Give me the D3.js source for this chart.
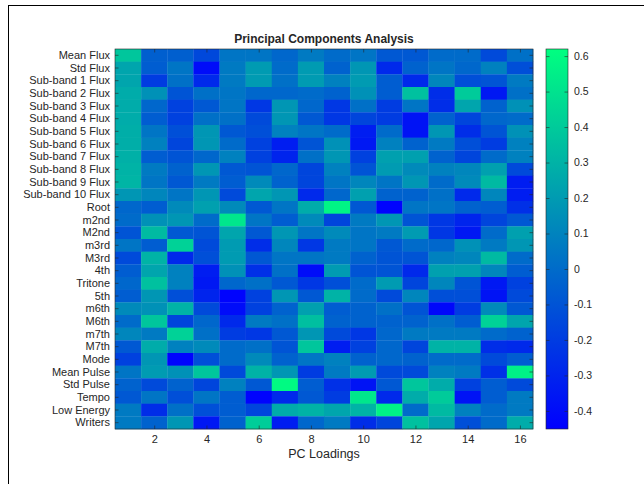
<!DOCTYPE html>
<html>
<head>
<meta charset="utf-8">
<script src="https://cdn.jsdelivr.net/npm/d3@7"></script>
<style>
  body { margin: 0; background: #fff; }
  text { font-family: "Liberation Sans", Arial, sans-serif; fill: #262626; }
</style>
</head>
<body>
<svg id="chart"></svg>
<script>
const width = 644, height = 484;

// row labels (features), top to bottom
const features = ["Mean Flux", "Std Flux", "Sub-band 1 Flux", "Sub-band 2 Flux", "Sub-band 3 Flux",
  "Sub-band 4 Flux", "Sub-band 5 Flux", "Sub-band 6 Flux", "Sub-band 7 Flux", "Sub-band 8 Flux",
  "Sub-band 9 Flux", "Sub-band 10 Flux", "Root", "m2nd", "M2nd", "m3rd", "M3rd", "4th", "Tritone",
  "5th", "m6th", "M6th", "m7th", "M7th", "Mode", "Mean Pulse", "Std Pulse", "Tempo", "Low Energy", "Writers"];

const pcs = d3.range(1, 17);          // PC 1..16
const xTicks = [2, 4, 6, 8, 10, 12, 14, 16];
const cbarTicks = [-0.4, -0.3, -0.2, -0.1, 0, 0.1, 0.2, 0.3, 0.4, 0.5, 0.6];
const colorLimits = [-0.451, 0.62];

// loadings[row][pc]
const loadings = [
  [0.38, -0.05, -0.05, -0.15, 0.04, 0.04, -0.02, 0.06, 0, 0.04, -0.08, -0.08, 0, 0, -0.14, 0.02],
  [0.24, -0.06, 0.04, -0.40, 0.06, 0.20, 0, 0.20, -0.04, 0.18, -0.28, -0.04, 0.04, -0.02, 0.09, -0.12],
  [0.24, -0.20, 0.02, -0.28, 0.06, 0.20, 0.02, 0.20, 0.09, 0.20, -0.06, -0.28, 0.11, -0.12, -0.10, 0.06],
  [0.27, 0.16, -0.10, 0.02, 0.04, -0.02, -0.02, 0, -0.04, 0.16, -0.06, 0.36, -0.26, 0.40, -0.35, 0.02],
  [0.27, -0.02, -0.18, -0.08, 0.04, -0.22, 0.18, -0.02, -0.22, 0.02, -0.20, 0.04, -0.26, 0.24, -0.04, 0.16],
  [0.27, -0.06, -0.18, 0.02, 0.02, -0.14, 0.18, -0.08, -0.22, -0.16, -0.20, -0.37, -0.04, -0.16, -0.02, 0],
  [0.28, 0.04, -0.12, 0.18, -0.08, -0.12, 0.09, 0.04, 0, -0.33, 0, -0.37, 0.18, -0.26, -0.10, 0.16],
  [0.28, 0.09, -0.16, 0.18, 0, -0.18, -0.33, -0.10, 0.16, -0.35, 0.09, -0.04, 0.06, -0.12, -0.20, 0.09],
  [0.29, -0.06, -0.10, -0.02, 0.09, -0.18, -0.30, 0.02, 0.18, -0.18, 0.22, 0.22, -0.04, -0.16, 0, 0.09],
  [0.30, 0.06, -0.04, 0.18, -0.08, -0.10, -0.02, -0.16, 0.09, -0.10, 0.20, 0.13, 0.09, 0.11, 0.22, -0.14],
  [0.31, 0.04, -0.08, 0.06, -0.06, 0.13, -0.04, -0.16, 0.04, 0.11, 0.04, 0.18, 0, 0.13, 0.33, -0.33],
  [0.18, 0.11, 0.04, 0.18, -0.14, 0.24, 0.18, -0.28, -0.02, 0.22, -0.04, -0.04, 0.02, -0.28, 0.11, -0.33],
  [-0.02, -0.06, 0.13, 0.22, 0.13, -0.08, 0.04, 0.27, 0.58, -0.08, -0.44, 0.04, 0.04, -0.04, -0.06, -0.25],
  [0, 0.16, 0.18, 0, 0.52, 0.04, -0.06, 0.13, -0.16, 0.06, 0.18, -0.10, -0.22, -0.30, -0.16, -0.08],
  [-0.10, 0.33, -0.08, -0.10, 0.24, -0.08, 0.18, 0.04, 0.13, 0.04, 0.06, 0.20, -0.22, -0.35, 0, 0.22],
  [0.04, -0.06, 0.43, -0.14, 0.20, -0.26, 0.11, -0.22, 0.06, 0.04, -0.08, 0, -0.02, 0.16, 0.06, 0.18],
  [-0.14, 0.30, -0.28, -0.12, 0.20, -0.08, 0.04, 0.04, 0.06, -0.04, -0.10, -0.10, 0.09, 0.11, 0.33, 0],
  [-0.06, 0.24, 0.09, -0.33, 0.16, -0.25, 0.02, -0.40, 0.20, -0.10, -0.10, -0.28, 0.22, 0.22, 0.11, -0.06],
  [-0.02, 0.36, 0.09, -0.35, -0.02, 0.02, -0.08, -0.22, -0.12, 0, 0.20, -0.16, 0.11, -0.10, -0.35, -0.18],
  [-0.06, 0.18, -0.12, -0.30, -0.44, -0.18, 0.18, -0.08, 0.30, 0, -0.14, 0.11, -0.12, -0.12, -0.37, -0.14],
  [0.13, 0.16, 0.30, -0.14, -0.40, -0.18, -0.04, 0.22, -0.06, -0.04, 0.02, -0.10, -0.42, -0.20, 0.13, -0.08],
  [0, 0.38, -0.16, -0.02, -0.28, 0.06, 0.02, 0.35, -0.04, -0.04, -0.04, -0.04, 0.02, -0.06, 0.43, 0.24],
  [0.11, 0.06, 0.43, 0.02, -0.20, -0.22, -0.08, 0.18, -0.14, -0.22, -0.02, 0.06, 0.06, 0.06, 0, -0.04],
  [-0.08, 0.27, 0.09, 0.13, 0, 0.02, -0.10, 0.38, -0.33, -0.18, -0.02, -0.16, 0.30, 0.30, -0.26, -0.28],
  [-0.18, 0.18, -0.44, -0.12, 0, 0.13, -0.04, 0.04, 0.09, -0.04, -0.02, -0.04, 0, 0, -0.14, -0.06],
  [0.04, 0.20, 0.16, 0.38, -0.14, 0.30, 0.18, -0.20, 0.06, 0.20, -0.14, -0.14, 0.09, 0.06, -0.25, 0.56],
  [-0.04, -0.14, -0.04, -0.16, 0.09, -0.08, 0.60, -0.06, -0.25, -0.37, -0.08, 0.38, 0.27, -0.18, -0.06, -0.14],
  [-0.08, 0.04, -0.12, 0.04, -0.06, -0.44, -0.28, -0.08, -0.20, 0.52, -0.28, 0.27, 0.40, -0.37, -0.06, 0.06],
  [0.06, -0.26, 0.02, -0.12, -0.06, -0.16, 0.27, 0.30, 0.24, 0.30, 0.57, 0, 0.33, 0.09, 0, 0.06],
  [0.06, -0.04, 0.18, -0.35, -0.04, 0.41, -0.33, -0.02, 0.06, -0.26, -0.16, 0.36, 0.24, -0.12, 0, 0.27]
];

const plot = { left: 115, right: 533, top: 49, bottom: 429 };
const cbar = { left: 546, right: 568 };
const axisColor = "#262626";

const svg = d3.select("#chart").attr("width", width).attr("height", height);

// figure frame (cut off on the right and bottom, as in the picture)
svg.append("rect")
  .attr("x", 8.5).attr("y", 5.5)
  .attr("width", 700).attr("height", 600)
  .attr("fill", "none").attr("stroke", "#000").attr("stroke-width", 1);

const x = d3.scaleLinear().domain([0.5, 16.5]).range([plot.left, plot.right]);
const y = d3.scaleBand().domain(features).range([plot.top, plot.bottom]);
const color = d3.scaleLinear().domain(colorLimits).range(["#0000ff", "#00ff80"]).clamp(true);

// cells
const cells = [];
loadings.forEach((row, i) => row.forEach((v, j) => cells.push({ feature: features[i], pc: pcs[j], value: v })));

svg.append("g").selectAll("rect")
  .data(cells)
  .join("rect")
  .attr("x", d => x(d.pc - 0.5))
  .attr("y", d => y(d.feature))
  .attr("width", x(1.5) - x(0.5) + 0.3)
  .attr("height", y.bandwidth() + 0.3)
  .attr("fill", d => color(d.value));

// axes (ticks inside, box on)
const tickLen = 3.5;
const yAxisL = d3.axisLeft(y).tickSize(-tickLen).tickPadding(5);
const yAxisR = d3.axisRight(y).tickSize(-tickLen).tickFormat("");
const xAxisB = d3.axisBottom(x).tickValues(xTicks).tickSize(-tickLen).tickPadding(6);
const xAxisT = d3.axisTop(x).tickValues(xTicks).tickSize(-tickLen).tickFormat("");

function styleAxis(g) {
  g.select(".domain").remove();
  g.selectAll("line").attr("stroke", axisColor).attr("stroke-width", 0.6);
  g.selectAll("text").attr("fill", axisColor).style("font-size", "11px")
    .style("font-family", "'Liberation Sans', Arial, sans-serif");
}

svg.append("g").attr("transform", `translate(${plot.left},0)`).call(yAxisL).call(styleAxis);
svg.append("g").attr("transform", `translate(${plot.right},0)`).call(yAxisR).call(styleAxis);
svg.append("g").attr("transform", `translate(0,${plot.bottom})`).call(xAxisB).call(styleAxis);
svg.append("g").attr("transform", `translate(0,${plot.top})`).call(xAxisT).call(styleAxis);

svg.append("rect")
  .attr("x", plot.left).attr("y", plot.top)
  .attr("width", plot.right - plot.left).attr("height", plot.bottom - plot.top)
  .attr("fill", "none").attr("stroke", axisColor).attr("stroke-width", 0.6);

// title and x label
svg.append("text")
  .attr("x", (plot.left + plot.right) / 2).attr("y", 43)
  .attr("text-anchor", "middle")
  .style("font-size", "12px").style("font-weight", "bold")
  .attr("fill", "#000")
  .text("Principal Components Analysis");

svg.append("text")
  .attr("x", (plot.left + plot.right) / 2).attr("y", 458)
  .attr("text-anchor", "middle")
  .style("font-size", "12.5px")
  .text("PC Loadings");

// colorbar
const defs = svg.append("defs");
const grad = defs.append("linearGradient").attr("id", "cbarGrad")
  .attr("x1", 0).attr("y1", 1).attr("x2", 0).attr("y2", 0);
grad.selectAll("stop")
  .data(colorLimits)
  .join("stop")
  .attr("offset", (d, i) => i)
  .attr("stop-color", d => color(d));

const cy = d3.scaleLinear().domain(colorLimits).range([plot.bottom, plot.top]);

svg.append("rect")
  .attr("x", cbar.left).attr("y", plot.top)
  .attr("width", cbar.right - cbar.left).attr("height", plot.bottom - plot.top)
  .attr("fill", "url(#cbarGrad)");

// plain hyphen for negatives, as MATLAB prints them
const cAxis = d3.axisRight(cy).tickValues(cbarTicks).tickSize(-tickLen).tickPadding(6)
  .tickFormat(d => String(d));
svg.append("g").attr("transform", `translate(${cbar.right},0)`).call(cAxis).call(styleAxis)
  .selectAll("text").style("font-size", "10.5px");
svg.append("g").attr("transform", `translate(${cbar.left},0)`)
  .call(d3.axisLeft(cy).tickValues(cbarTicks).tickSize(-tickLen).tickFormat("")).call(styleAxis);

svg.append("rect")
  .attr("x", cbar.left).attr("y", plot.top)
  .attr("width", cbar.right - cbar.left).attr("height", plot.bottom - plot.top)
  .attr("fill", "none").attr("stroke", axisColor).attr("stroke-width", 0.6);
</script>
</body>
</html>
